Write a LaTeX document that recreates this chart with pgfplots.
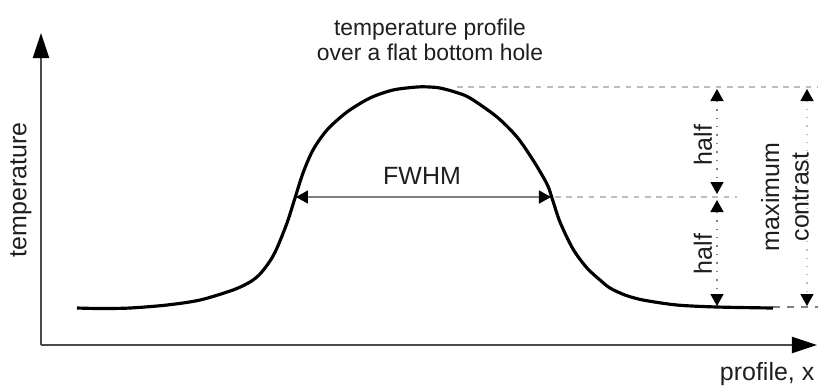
\documentclass[border=0pt]{standalone}
\usepackage{pgfplots}
\pgfplotsset{compat=1.18}
\usepackage{fontspec}
\setmainfont{Liberation Sans}
\usetikzlibrary{arrows.meta}
\definecolor{axisgray}{HTML}{4A4A4A}
\definecolor{textgray}{HTML}{1E1E1E}
\definecolor{guidegray}{HTML}{BDBDBD}
\tikzset{dimtip/.tip={Triangle[length=1.2mm,width=1.3mm,black]}}

\begin{document}
\begin{tikzpicture}[
  bigtxt/.style={font=\fontsize{7.1pt}{8.4pt}\selectfont, text=textgray, inner sep=0pt},
  guide/.style={guidegray, line width=0.35pt, dash pattern=on 1.6pt off 1.6pt},
]
\begin{axis}[
  width=8.18cm, height=3.85cm, scale only axis,
  xmin=0, xmax=818, ymin=0, ymax=385, y dir=reverse,
  axis lines=none, clip=false,
]
% corners of the drawing area
\coordinate (bl) at (axis cs:0,385);
\coordinate (tr) at (axis cs:818,0);

% coordinate axes
\draw[axisgray, line width=0.55pt, -{Triangle[length=2.5mm,width=1.6mm,black]}]
  (axis cs:41,345) -- (axis cs:41,33);
\draw[axisgray, line width=0.55pt, -{Triangle[length=2.5mm,width=1.6mm,black]}]
  (axis cs:41,345) -- (axis cs:817,345);

% guide lines at peak, half level and baseline
\draw[guide] (axis cs:457,87) -- (axis cs:818,87);
\draw[guide] (axis cs:555,197) -- (axis cs:737,197);
\draw[gray, line width=0.4pt, dash pattern=on 2pt off 2pt]
  (axis cs:773,307) -- (axis cs:818,307);

% temperature profile
\addplot[black, line width=0.9pt, smooth, tension=0.5] coordinates {
  (77,308) (100,308.5) (130,308) (167,305) (200,300) (233,290)
  (250,282) (260,274) (270,261) (277,248) (287,223) (295,198)
  (303,173) (313,150) (327,130) (347,112) (370,98) (393,90)
  (417,87) (430,87) (440,88) (455,92) (470,98) (497,117)
  (517,137) (533,160) (547,184) (552,198) (560,222) (573,249)
  (587,268) (600,280) (610,288) (625,295) (643,300) (677,305)
  (717,307) (773,308)
};

% FWHM arrow
\draw[gray, line width=0.45pt, dimtip-dimtip]
  (axis cs:296,197) -- (axis cs:551,197);
\node[bigtxt] at (axis cs:422,176) {FWHM};

% half / half arrows
\draw[gray, line width=0.4pt, dotted, dimtip-dimtip]
  (axis cs:717,89) -- (axis cs:717,194);
\draw[gray, line width=0.4pt, dotted, dimtip-dimtip]
  (axis cs:717,200) -- (axis cs:717,306);
\node[bigtxt, rotate=90] at (axis cs:703,145) {half};
\node[bigtxt, rotate=90] at (axis cs:703,254) {half};

% maximum contrast arrow
\draw[guidegray, line width=0.35pt, dotted, dimtip-dimtip]
  (axis cs:807,89) -- (axis cs:807,306);
\node[bigtxt, rotate=90, align=center] at (axis cs:785,197) {maximum\\contrast};

% axis labels and title
\node[bigtxt, rotate=90] at (axis cs:21,190) {temperature};
\node[bigtxt, anchor=base east] at (axis cs:815,380) {profile, x};
\node[font=\fontsize{6.5pt}{7.1pt}\selectfont, text=textgray, inner sep=0pt,
  anchor=base] at (axis cs:430,35) {temperature profile};
\node[font=\fontsize{6.5pt}{7.1pt}\selectfont, text=textgray, inner sep=0pt,
  anchor=base] at (axis cs:430,60) {over a flat bottom hole};
\end{axis}
\pgfresetboundingbox
\path (bl) rectangle (tr);
\end{tikzpicture}
\end{document}
